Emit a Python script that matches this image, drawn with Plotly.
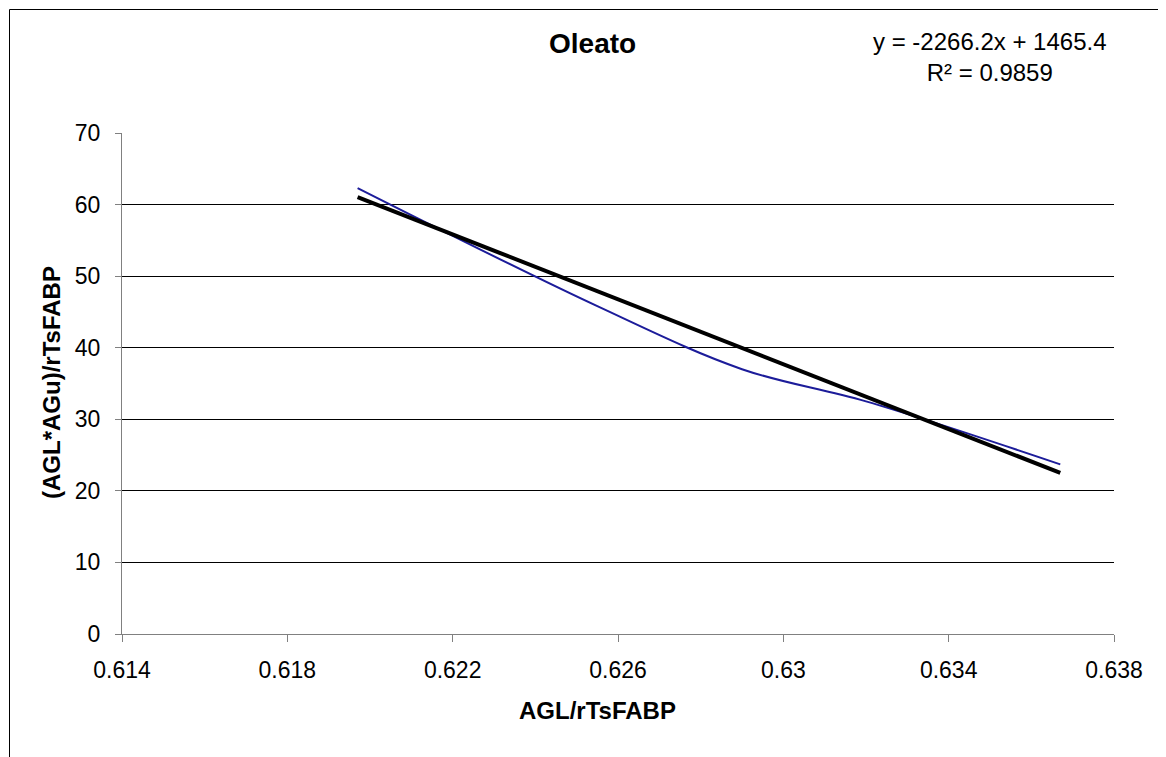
import plotly.graph_objects as go

# ---- data ----
x_values = [0.6197, 0.6255, 0.6290, 0.6320, 0.6367]
y_values = [62.3, 45.8, 37.0, 32.5, 23.7]
trend_slope = -2266.2
trend_intercept = 1465.4
x_tick_vals = [0.614, 0.618, 0.622, 0.626, 0.630, 0.634, 0.638]
x_tick_text = ["0.614", "0.618", "0.622", "0.626", "0.63", "0.634", "0.638"]
y_tick_vals = [0, 10, 20, 30, 40, 50, 60, 70]
title_text = "Oleato"
x_title = "AGL/rTsFABP"
y_title = "(AGL*AGu)/rTsFABP"
eq_text = "y = -2266.2x + 1465.4<br>R² = 0.9859"

W, H = 1166, 757
OFF = 8  # page body margin offset
ML, MT = 122 - OFF, 133 - OFF
PW, PH = 992, 501
MR = W - ML - PW
MB = H - MT - PH


def px_to_paper_x(px):
    return (px - OFF - ML) / PW


def px_to_paper_y(py):
    return (MT + PH - (py - OFF)) / PH


trend_x = [min(x_values), max(x_values)]
trend_y = [trend_slope * v + trend_intercept for v in trend_x]

FONT = "Liberation Sans, Arial, sans-serif"

fig = go.Figure()
fig.add_trace(go.Scatter(x=x_values, y=y_values, mode="lines",
                         line=dict(color="#1c1c9a", width=2, shape="spline", smoothing=1.0),
                         showlegend=False, hoverinfo="skip"))
fig.add_trace(go.Scatter(x=trend_x, y=trend_y, mode="lines",
                         line=dict(color="#000000", width=4),
                         showlegend=False, hoverinfo="skip"))

fig.update_layout(
    width=W, height=H,
    margin=dict(l=ML, r=MR, t=MT, b=MB, pad=0),
    paper_bgcolor="white", plot_bgcolor="white",
    font=dict(family=FONT, color="#000000"),
    showlegend=False,
)
fig.update_xaxes(range=[0.614, 0.638], tickvals=x_tick_vals, ticktext=x_tick_text,
                 showgrid=False, zeroline=False,
                 showline=True, linecolor="#808080", linewidth=1,
                 ticks="outside", ticklen=7, tickcolor="#808080", tickwidth=1,
                 ticklabelstandoff=8,
                 tickfont=dict(size=23, family=FONT, color="#000"))
fig.update_yaxes(range=[0, 70], tickvals=y_tick_vals,
                 showgrid=True, gridcolor="#000000", gridwidth=1, zeroline=False,
                 showline=True, linecolor="#808080", linewidth=1,
                 ticks="outside", ticklen=6, tickcolor="#808080", tickwidth=1,
                 ticklabelstandoff=10,
                 tickfont=dict(size=23, family=FONT, color="#000"))

annotations = [
    dict(text="<b>%s</b>" % title_text, x=px_to_paper_x(592), y=px_to_paper_y(44),
         xref="paper", yref="paper", showarrow=False, xanchor="center", yanchor="middle",
         font=dict(size=28, family=FONT)),
    dict(text=eq_text, x=px_to_paper_x(990), y=px_to_paper_y(57),
         xref="paper", yref="paper", showarrow=False, xanchor="center", yanchor="middle",
         align="center", font=dict(size=24, family=FONT)),
    dict(text="<b>%s</b>" % x_title, x=px_to_paper_x(597), y=px_to_paper_y(710),
         xref="paper", yref="paper", showarrow=False, xanchor="center", yanchor="middle",
         font=dict(size=24, family=FONT)),
    dict(text="<b>%s</b>" % y_title, x=px_to_paper_x(51), y=px_to_paper_y(383),
         xref="paper", yref="paper", showarrow=False, xanchor="center", yanchor="middle",
         textangle=-90, font=dict(size=24, family=FONT)),
]
fig.update_layout(annotations=annotations)

# chart-area border (left and top edges visible); drawn at the figure's own edge
BX = OFF + 1.5
BY = OFF + 1.5
fig.add_shape(type="line", xref="paper", yref="paper",
              x0=px_to_paper_x(BX), x1=px_to_paper_x(BX),
              y0=px_to_paper_y(BY), y1=px_to_paper_y(H + 20),
              line=dict(color="#000000", width=1))
fig.add_shape(type="line", xref="paper", yref="paper",
              x0=px_to_paper_x(BX), x1=px_to_paper_x(W + 20),
              y0=px_to_paper_y(BY), y1=px_to_paper_y(BY),
              line=dict(color="#000000", width=1))

fig.write_html("out.html")
